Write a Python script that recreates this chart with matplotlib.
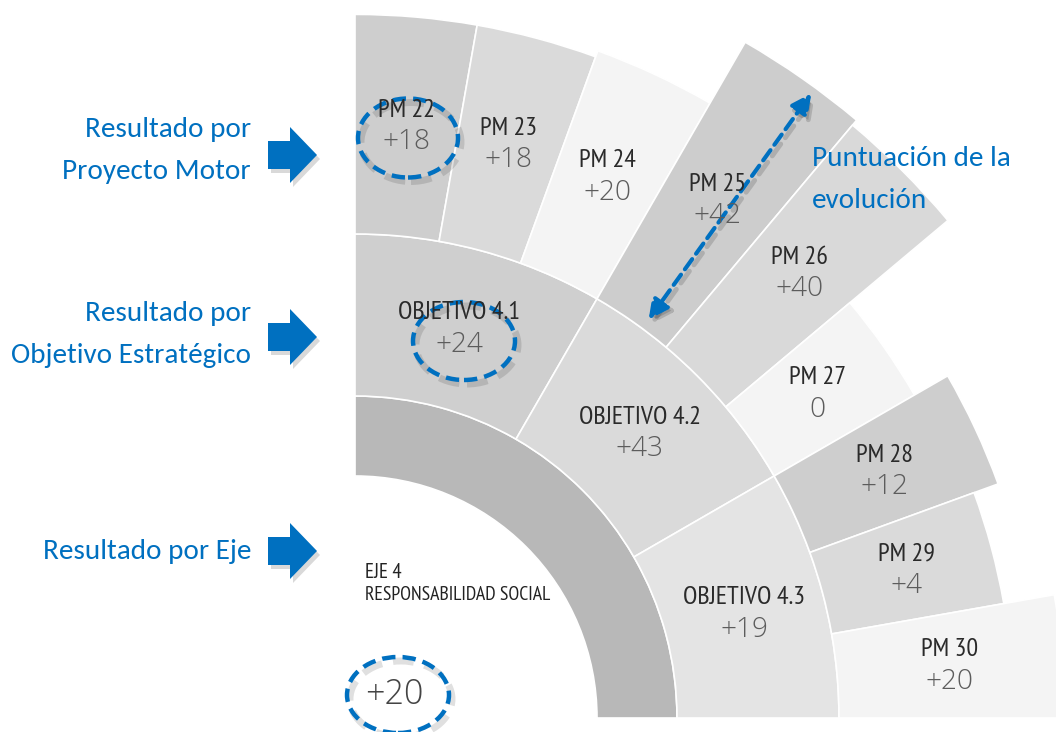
import matplotlib
matplotlib.use("Agg")
import matplotlib.pyplot as plt
from matplotlib.patches import Wedge, Ellipse, Polygon, FancyArrowPatch
from matplotlib import font_manager
import numpy as np

# ---------------- data ----------------
pm_labels = ["PM 22", "PM 23", "PM 24", "PM 25", "PM 26", "PM 27", "PM 28", "PM 29", "PM 30"]
pm_scores = [18, 18, 20, 42, 40, 0, 12, 4, 20]
pm_colors = ["#cecece", "#dadada", "#f4f4f4", "#cdcdcd", "#d9d9d9", "#f4f4f4", "#cecece", "#dadada", "#f4f4f4"]

obj_labels = ["OBJETIVO 4.1", "OBJETIVO 4.2", "OBJETIVO 4.3"]
obj_scores = [24, 43, 19]
obj_colors = ["#cfcfcf", "#dadada", "#e4e4e4"]

eje_title = "EJE 4"
eje_name = "RESPONSABILIDAD SOCIAL"
eje_score = 20
eje_color = "#b8b8b8"

side_labels = ["Resultado por\nProyecto Motor", "Resultado por\nObjetivo Estratégico", "Resultado por Eje"]
note_lines = ["Puntuación de la", "evolución"]

# ---------------- fonts ----------------
available = {f.name for f in font_manager.fontManager.ttflist}

def pick(cands, default="DejaVu Sans"):
    for c in cands:
        if c in available:
            return c
    return default

cond_family = pick(["PT Sans Narrow", "Open Sans", "IBM Plex Sans Condensed"])
cond_stretch = "condensed" if cond_family == "Open Sans" else "normal"
val_family = pick(["Open Sans", "Noto Sans", "DejaVu Sans"])
side_family = pick(["Carlito", "Lato", "Open Sans"])

W, H = 1056, 732
fig = plt.figure(figsize=(W / 100, H / 100), dpi=100)
ax = fig.add_axes([0, 0, 1, 1])
ax.set_xlim(0, W)
ax.set_ylim(0, H)
ax.axis("off")
renderer = fig.canvas.get_renderer()

def fit_size(s, target_px, **kw):
    t = ax.text(0, 0, s, fontsize=10, **kw)
    w = t.get_window_extent(renderer).width
    t.remove()
    return 10 * target_px / w

lab_kw = dict(family=cond_family, fontstretch=cond_stretch, fontweight="normal")
val_kw = dict(family=val_family, fontweight="light")
side_kw = dict(family=side_family)

fs_pm = fit_size("PM 23", 57, **lab_kw)
fs_val = fit_size("+18", 48, **val_kw)
fs_obj = fit_size("OBJETIVO 4.2", 122, **lab_kw)
fs_eje_name = fit_size(eje_name, 185, **lab_kw)
fs_eje_val = fit_size("+20", 58, **val_kw)
fs_side = fit_size("Objetivo Estratégico", 240, **side_kw)

def Y(ypx):
    return H - ypx

cx, cy = 355, Y(718)
r_eje_in, r_eje_out = 242, 322
r_obj_out = 484
r_pm_base = 646     # radius for a score of 0
r_per_point = 3.2   # radius growth per point

BLUE = "#0070c0"
VAL_COLOR = "#5c5c5c"

def fmt(v):
    return f"+{v}" if v > 0 else "0"

# ---------------- eje ring ----------------
ax.add_patch(Wedge((cx, cy), r_eje_out, 0, 90, width=r_eje_out - r_eje_in,
                   facecolor=eje_color, edgecolor="white", lw=1.2))

# ---------------- objective ring ----------------
n_obj = len(obj_labels)
span_obj = 90 / n_obj
for i, (lab, sc, col) in enumerate(zip(obj_labels, obj_scores, obj_colors)):
    t2 = 90 - span_obj * i
    t1 = t2 - span_obj
    ax.add_patch(Wedge((cx, cy), r_obj_out, t1, t2, width=r_obj_out - r_eje_out,
                       facecolor=col, edgecolor="white", lw=1.2))
    a = np.deg2rad((t1 + t2) / 2)
    rm = (r_obj_out + r_eje_out) / 2
    x, y = cx + rm * np.cos(a), cy + rm * np.sin(a)
    ax.text(x, y + 16, lab, ha="center", va="center", fontsize=fs_obj, color="#2a2a2a", **lab_kw)
    ax.text(x, y - 16, fmt(sc), ha="center", va="center", fontsize=fs_val, color=VAL_COLOR, **val_kw)

# ---------------- PM ring ----------------
n_pm = len(pm_labels)
span_pm = 90 / n_pm
for i, (lab, sc, col) in enumerate(zip(pm_labels, pm_scores, pm_colors)):
    t2 = 90 - span_pm * i
    t1 = t2 - span_pm
    r_out = r_pm_base + r_per_point * sc
    ax.add_patch(Wedge((cx, cy), r_out, t1, t2, width=r_out - r_obj_out,
                       facecolor=col, edgecolor="white", lw=1.2))
    a = np.deg2rad((t1 + t2) / 2)
    rm = (r_out + r_obj_out) / 2
    x, y = cx + rm * np.cos(a), cy + rm * np.sin(a)
    ax.text(x, y + 16, lab, ha="center", va="center", fontsize=fs_pm, color="#2a2a2a", **lab_kw)
    ax.text(x, y - 16, fmt(sc), ha="center", va="center", fontsize=fs_val, color=VAL_COLOR, **val_kw)

# ---------------- eje labels ----------------
ax.text(365, Y(573), eje_title, ha="left", va="center", fontsize=fs_eje_name * 1.05, color="#222222", **lab_kw)
ax.text(365, Y(595), eje_name, ha="left", va="center", fontsize=fs_eje_name, color="#222222", **lab_kw)
ax.text(394, Y(695), fmt(eje_score), ha="center", va="center", fontsize=fs_eje_val, color="#444444", **val_kw)

# ---------------- dashed ellipses ----------------
def dashed_ellipse(xc, yc, w, h):
    ax.add_patch(Ellipse((xc + 3, Y(yc) - 4), w, h, fill=False, edgecolor="#000000",
                         alpha=0.12, lw=5, linestyle=(0, (3, 1.6))))
    ax.add_patch(Ellipse((xc, Y(yc)), w, h, fill=False, edgecolor=BLUE,
                         lw=3.2, linestyle=(0, (3, 1.6))))

dashed_ellipse(408, 138, 100, 79)
dashed_ellipse(464, 341, 102, 78)
dashed_ellipse(398, 695, 102, 76)

# ---------------- double dashed arrow ----------------
p_top = (813, Y(91))
p_bot = (647, Y(322))
shadow = FancyArrowPatch((p_bot[0] + 3, p_bot[1] - 4), (p_top[0] + 3, p_top[1] - 4),
                         arrowstyle="<|-|>,head_length=12,head_width=6", mutation_scale=1,
                         color="#000000", alpha=0.15, lw=3.5, linestyle=(0, (3, 1.6)))
ax.add_patch(shadow)
arr = FancyArrowPatch(p_bot, p_top, arrowstyle="<|-|>,head_length=12,head_width=6",
                      mutation_scale=1, color=BLUE, lw=3, linestyle=(0, (3, 1.6)))
ax.add_patch(arr)

ax.text(812, Y(158), note_lines[0], ha="left", va="center", fontsize=fs_side, color=BLUE, **side_kw)
ax.text(812, Y(200), note_lines[1], ha="left", va="center", fontsize=fs_side, color=BLUE, **side_kw)

# ---------------- side labels & block arrows ----------------
side_pos = [(130, 172), (313, 355), (552, None)]
arrow_mid = [155, 337, 551]
for lab, (y1, y2), am in zip(side_labels, side_pos, arrow_mid):
    lines = lab.split("\n")
    ax.text(251, Y(y1), lines[0], ha="right", va="center", fontsize=fs_side, color=BLUE, **side_kw)
    if y2 is not None and len(lines) > 1:
        ax.text(251, Y(y2), lines[1], ha="right", va="center", fontsize=fs_side, color=BLUE, **side_kw)
    pts = [(268, am - 14), (290, am - 14), (290, am - 28), (317, am),
           (290, am + 28), (290, am + 14), (268, am + 14)]
    pts_sh = [(x + 3, Y(y + 4)) for x, y in pts]
    ax.add_patch(Polygon(pts_sh, closed=True, facecolor="#000000", alpha=0.15, edgecolor="none"))
    ax.add_patch(Polygon([(x, Y(y)) for x, y in pts], closed=True, facecolor=BLUE, edgecolor="none"))

fig.savefig("out.png", dpi=100, facecolor="white")
